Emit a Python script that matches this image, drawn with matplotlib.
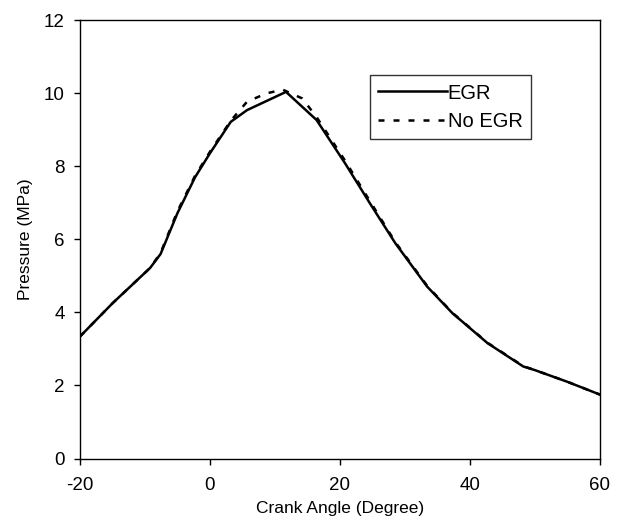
import matplotlib
matplotlib.use("Agg")
import matplotlib.pyplot as plt

plt.rcParams['font.family'] = ['Liberation Sans', 'DejaVu Sans']
plt.rcParams['axes.unicode_minus'] = False

# Data
crank_egr = [-20, -15, -9.2, -7.6, -5, -2.3, 0, 3.2, 5.7, 11.7, 16.4, 20.8, 24.6, 28.5, 33.4, 37.3, 42.7, 48.2, 50, 55, 60]
press_egr = [3.34, 4.25, 5.22, 5.6, 6.72, 7.7, 8.36, 9.22, 9.54, 10.04, 9.27, 8.08, 6.99, 5.9, 4.71, 3.98, 3.16, 2.52, 2.42, 2.1, 1.75]

crank_noegr = [-20, -15, -9.2, -7.6, -5, -2.3, 0, 3.2, 5.7, 8.7, 11.2, 14.2, 16.4, 20.8, 24.6, 28.5, 33.4, 37.3, 42.7, 48.2, 50, 55, 60]
press_noegr = [3.34, 4.25, 5.22, 5.63, 6.77, 7.74, 8.4, 9.25, 9.77, 10.0, 10.1, 9.86, 9.35, 8.15, 7.05, 5.93, 4.73, 3.99, 3.17, 2.53, 2.42, 2.1, 1.75]

x_ticks = [-20, 0, 20, 40, 60]
y_ticks = [0, 2, 4, 6, 8, 10, 12]

fig = plt.figure(figsize=(6.18, 5.23), dpi=100)
ax = fig.add_axes([0.1294, 0.1233, 0.8414, 0.8379])

ax.plot(crank_egr, press_egr, color='black', lw=1.8, label='EGR')
ax.plot(crank_noegr, press_noegr, color='black', lw=1.8, ls=(0, (2.4, 3.6)), label='No EGR')

ax.set_xlim(-20, 60)
ax.set_ylim(0, 12)
ax.set_xticks(x_ticks)
ax.set_yticks(y_ticks)
ax.tick_params(direction='out', length=4, width=1, labelsize=13.5)
ax.tick_params(axis='x', pad=9)
ax.tick_params(axis='y', pad=7)
for s in ax.spines.values():
    s.set_linewidth(1.0)

ax.set_xlabel('Crank Angle (Degree)', fontsize=12.5)
ax.set_ylabel('Pressure (MPa)', fontsize=12.5)
ax.xaxis.set_label_coords(0.5, -0.098)
ax.yaxis.set_label_coords(-0.09, 0.5)

leg = ax.legend(loc='upper left', bbox_to_anchor=(0.557, 0.875), frameon=True, fancybox=False,
                edgecolor='black', fontsize=14.5, handlelength=3.4, handletextpad=0.05,
                borderpad=0.42, labelspacing=0.45, borderaxespad=0)
leg.get_frame().set_linewidth(1.0)

fig.savefig('out.png', dpi=100)
